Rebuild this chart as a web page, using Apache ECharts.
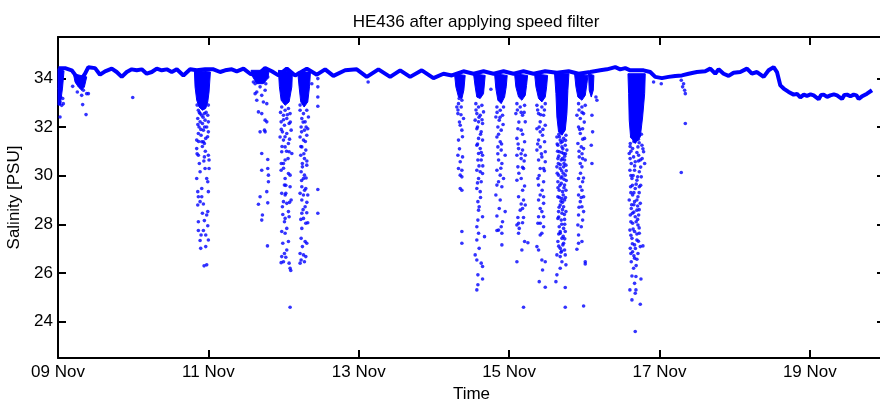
<!DOCTYPE html>
<html>
<head>
<meta charset="utf-8">
<script src="https://cdn.jsdelivr.net/npm/echarts@6/dist/echarts.min.js"></script>
<style>html,body{margin:0;padding:0;background:#fff}#c{width:880px;height:405px}</style>
</head>
<body>
<div id="c"></div>
<script>
// x values are days since 09 Nov 00:00
const tickDays = [0, 2, 4, 6, 8, 10];
const tickLabels = ['09 Nov', '11 Nov', '13 Nov', '15 Nov', '17 Nov', '19 Nov'];
const salTicks = [24, 26, 28, 30, 32, 34];

// main salinity trace
const baseline = [
[0.005,34.42],[0.094,34.42],[0.182,34.33],[0.249,34.06],[0.315,33.99],[0.360,34.19],[0.404,34.46],[0.493,34.42],
[0.559,34.15],[0.626,34.29],[0.715,34.40],[0.781,34.26],[0.848,34.06],[0.914,34.26],[0.981,34.37],[1.047,34.33],
[1.114,34.37],[1.180,34.19],[1.247,34.26],[1.314,34.40],[1.380,34.33],[1.447,34.37],[1.513,34.26],[1.580,34.37],
[1.668,34.12],[1.757,34.37],[1.846,34.33],[1.957,34.37],[2.068,34.37],[2.156,34.26],[2.223,34.33],[2.312,34.37],
[2.378,34.29],[2.467,34.40],[2.556,34.19],[2.644,34.12],[2.755,34.42],[2.844,34.29],[2.933,34.12],[3.044,34.40],
[3.154,34.12],[3.310,34.40],[3.443,34.15],[3.553,34.37],[3.663,34.10],[3.819,34.33],[3.974,34.37],[4.107,34.06],
[4.262,34.37],[4.418,34.06],[4.551,34.33],[4.684,34.06],[4.839,34.33],[4.994,34.01],[5.127,34.19],[5.238,34.12],
[5.393,34.29],[5.527,34.19],[5.660,34.29],[5.793,34.19],[5.926,34.29],[6.059,34.19],[6.192,34.29],[6.325,34.19],
[6.480,34.29],[6.636,34.23],[6.791,34.29],[6.924,34.19],[7.079,34.26],[7.212,34.33],[7.301,34.37],[7.412,34.46],
[7.478,34.37],[7.545,34.42],[7.611,34.33],[7.789,34.33],[7.877,34.26],[7.944,34.06],[8.033,34.01],[8.121,34.06],
[8.210,34.10],[8.299,34.12],[8.388,34.19],[8.498,34.26],[8.609,34.29],[8.676,34.40],[8.742,34.19],[8.787,34.37],
[8.853,34.19],[8.920,34.10],[8.986,34.23],[9.075,34.26],[9.164,34.40],[9.230,34.19],[9.297,34.26],[9.386,34.06],
[9.452,34.33],[9.519,34.46],[9.563,34.26],[9.608,33.71],[9.652,33.58],[9.718,33.44],[9.785,33.33],[9.830,33.36],[9.874,33.22],
[9.920,33.33],[9.962,33.28],[10.010,33.34],[10.051,33.30],[10.118,33.14],[10.150,33.32],[10.184,33.33],[10.230,33.24],[10.273,33.30],
[10.320,33.34],[10.362,33.30],[10.428,33.15],[10.460,33.32],[10.495,33.33],[10.540,33.26],[10.584,33.33],[10.620,33.30],[10.650,33.15],
[10.690,33.25],[10.716,33.17],[10.761,33.37],[10.827,33.51]
];

// dense cores of the low-salinity bursts (outline, time vs salinity)
const coreStart = [[0.0,34.40],[0.0,32.90],[0.030,32.90],[0.060,33.60],[0.080,34.30]];
const coreEarly = [[0.205,34.19],[0.227,33.85],[0.271,33.64],[0.315,33.51],[0.350,33.64],[0.382,34.06]];
const coreA = [[1.814,34.33],[1.823,33.65],[1.845,33.10],[1.876,32.82],[1.921,32.69],[1.965,32.76],[1.992,33.03],[2.009,33.44],[2.027,34.26]];
const coreB = [[2.568,34.33],[2.590,34.06],[2.644,33.78],[2.732,33.78],[2.790,33.99],[2.808,34.33]];
const coreC = [[2.932,34.33],[2.945,33.65],[2.968,33.10],[3.021,32.89],[3.074,33.03],[3.110,33.65],[3.118,34.26]];
const coreD = [[3.189,34.26],[3.207,33.65],[3.229,33.03],[3.274,32.82],[3.322,33.03],[3.345,33.65],[3.358,34.26]];
const coreF = [[5.274,34.19],[5.292,33.65],[5.327,33.23],[5.372,33.17],[5.398,33.51],[5.416,34.12]];
const coreG = [[5.527,34.19],[5.549,33.65],[5.571,33.23],[5.616,33.17],[5.660,33.37],[5.682,34.12]];
const coreH = [[5.807,34.19],[5.824,33.58],[5.851,33.10],[5.895,32.96],[5.940,33.23],[5.962,33.65],[5.975,34.12]];
const coreI = [[6.073,34.19],[6.090,33.65],[6.126,33.23],[6.170,33.10],[6.215,33.30],[6.232,33.71],[6.246,34.12]];
const coreJ = [[6.339,34.19],[6.357,33.65],[6.392,33.17],[6.436,33.03],[6.481,33.23],[6.499,33.65],[6.512,34.12]];
const coreK = [[6.605,34.19],[6.623,33.37],[6.636,32.41],[6.658,31.80],[6.703,31.66],[6.747,31.87],[6.769,32.55],[6.782,33.51],[6.796,34.19]];
const coreL1 = [[6.871,34.19],[6.889,33.65],[6.915,33.23],[6.969,33.10],[7.013,33.30],[7.035,33.78],[7.049,34.12]];
const coreL2 = [[7.057,34.19],[7.066,33.51],[7.093,33.23],[7.120,33.51],[7.128,34.12]];
const coreM = [[7.581,34.19],[7.590,33.37],[7.598,32.28],[7.616,31.59],[7.678,31.32],[7.745,31.59],[7.776,32.41],[7.803,33.37],[7.811,34.19]];
const cores = [coreStart, coreEarly, coreA, coreB, coreC, coreD, coreF, coreG, coreH, coreI, coreJ, coreK, coreL1, coreL2, coreM];

// scattered low readings
const ptsEarly = [[0.027,32.41],[0.071,32.96],[0.328,32.92],[0.373,32.51],[0.257,33.44],[0.195,33.67],[0.404,33.37],[0.994,33.21],
[0.338,33.51],[0.382,33.37],[0.293,33.71],[0.249,33.85],[0.018,33.58],[0.036,33.23],[0.027,33.03],[0.049,32.89],[0.063,33.17],[0.315,33.30]];
const ptsA = [[1.845,31.46],[1.845,31.11],[1.867,30.84],[1.934,31.39],[1.947,30.77],[2.000,30.84],[2.009,30.64],[1.890,30.16],[1.956,30.29],
[2.009,30.29],[1.845,29.88],[1.978,29.88],[1.992,29.75],[1.912,29.47],[2.000,29.34],[1.859,29.34],[1.867,29.13],[1.912,29.13],[1.890,28.93],
[1.859,28.79],[1.934,28.83],[1.921,28.45],[1.992,28.52],[1.978,28.38],[1.867,28.10],[1.947,28.15],[1.992,27.94],[1.867,27.74],[1.934,27.74],
[1.903,27.56],[1.965,27.56],[1.890,27.33],[2.000,27.35],[1.898,27.01],[1.965,27.08],[1.943,26.29],[1.978,26.33],
[1.867,32.69],[1.912,32.48],[1.890,32.21],[1.956,32.28],[1.978,32.00],[1.934,31.87],[2.000,31.80],[1.876,32.00],[1.903,31.66],[1.965,31.53],
[1.859,32.35],[1.992,32.48],[1.921,32.14],[1.947,32.55],[1.890,32.55],[2.000,32.21],[1.867,31.73],[1.947,31.32],[1.912,31.39],
[1.85,32.9],[1.88,32.6],[1.93,32.4],[1.97,32.6],[2.00,32.9],[1.86,32.1],[1.90,31.9],[1.95,32.0],[1.99,31.6],[1.87,31.4],
[1.92,31.2],[1.96,31.0],[1.88,30.5],[1.94,30.6],[1.85,30.9]];
const ptsB = [[2.599,33.85],[2.622,33.37],[2.644,33.44],[2.688,33.65],[2.710,33.30],[2.755,33.51],[2.777,32.96],[2.732,33.03],[2.644,33.10],
[2.666,32.62],[2.710,32.55],[2.755,32.28],[2.777,32.21],[2.746,31.87],[2.755,31.80],[2.688,31.80],[2.710,30.91],[2.790,30.66],[2.710,30.22],
[2.790,30.29],[2.799,30.02],[2.799,29.75],[2.777,29.34],[2.688,29.13],[2.666,28.82],[2.790,28.88],[2.719,28.38],[2.710,28.17],[2.786,27.11],
[2.622,33.78],[2.666,34.06],[2.732,33.92],[2.790,34.06],[2.764,33.78],[2.630,34.19],[2.701,34.19]];
const ptsC = [[2.976,32.82],[3.021,32.69],[3.065,32.76],[2.999,32.48],[3.043,32.35],[3.087,32.55],[2.968,32.21],[3.012,32.07],[3.074,32.14],
[2.985,31.80],[3.043,31.73],[3.101,31.87],[2.999,31.46],[3.065,31.32],[3.021,31.18],[2.976,30.98],[3.074,30.98],[3.021,30.64],[2.999,30.50],
[3.065,30.09],[3.087,30.02],[3.021,29.88],[3.012,29.61],[3.087,29.54],[2.976,29.27],[3.021,29.20],[2.999,28.93],[3.043,28.86],[2.985,28.72],
[3.065,28.52],[3.021,28.24],[3.074,28.31],[3.012,28.10],[3.043,27.83],[2.976,27.70],[3.021,27.63],[2.990,27.22],[3.065,27.29],[3.043,26.94],
[3.012,26.80],[2.976,26.67],[3.030,26.64],[2.968,26.42],[2.999,26.46],[3.074,26.40],[3.087,26.19],[3.096,26.10],[3.087,24.59],[2.954,31.59],
[3.110,30.91],[2.968,30.22],[3.030,29.27],[3.101,29.00],
[2.96,32.6],[3.00,32.3],[3.05,32.5],[3.09,32.2],[2.97,31.9],[3.02,31.6],[3.08,31.5],[2.98,31.2],[3.04,31.0],[3.00,30.3],
[3.06,30.7],[2.97,30.5],[3.03,29.6],[3.08,28.9],[2.99,28.4]];
const ptsD = [[3.220,32.69],[3.265,32.55],[3.309,32.69],[3.243,32.35],[3.287,32.21],[3.331,32.41],[3.234,32.00],[3.278,31.87],[3.322,31.93],
[3.220,31.59],[3.265,31.46],[3.309,31.66],[3.243,31.18],[3.296,31.05],[3.229,30.84],[3.278,30.70],[3.251,30.36],[3.309,30.43],[3.234,30.16],
[3.278,30.02],[3.265,29.88],[3.243,29.54],[3.296,29.47],[3.220,29.27],[3.265,29.20],[3.322,29.20],[3.243,29.00],[3.287,28.72],[3.243,28.45],
[3.309,28.47],[3.265,28.24],[3.296,28.04],[3.322,28.06],[3.243,27.83],[3.234,27.42],[3.287,27.29],[3.309,27.22],[3.251,27.08],[3.220,26.80],
[3.265,26.74],[3.296,26.67],[3.234,26.53],[3.278,26.46],[3.220,26.40],
[3.22,32.9],[3.26,32.2],[3.30,32.0],[3.24,31.8],[3.29,31.4],[3.23,31.2],[3.27,30.9],[3.31,30.6],[3.25,30.5],[3.30,29.9],
[3.24,29.8],[3.28,29.4],[3.31,28.9],[3.26,28.6],[3.23,28.2]];
const ptsE = [[3.456,33.99],[3.456,33.65],[3.456,33.23],[3.456,32.85],[3.456,29.43],[3.456,28.45],[3.376,33.78],[4.125,33.85]];
const ptsF = [[5.327,32.96],[5.363,32.82],[5.319,32.55],[5.394,32.35],[5.350,32.07],[5.372,31.87],[5.327,31.46],[5.319,30.84],[5.381,30.77],
[5.350,30.57],[5.327,30.29],[5.372,30.22],[5.350,30.02],[5.372,29.95],[5.350,29.47],[5.372,29.40],[5.372,27.70],[5.372,27.22],[5.336,33.17],
[5.372,33.10],[5.305,32.82],[5.32,32.7],[5.36,32.5],[5.34,32.2],[5.38,31.6],[5.34,31.1]];
const ptsG = [[5.558,32.96],[5.594,32.82],[5.638,32.89],[5.571,32.55],[5.616,32.48],[5.660,32.62],[5.549,32.28],[5.594,32.21],[5.647,32.14],
[5.571,31.93],[5.629,31.80],[5.594,31.53],[5.647,31.46],[5.571,31.25],[5.616,31.11],[5.594,30.91],[5.647,30.84],[5.585,30.64],[5.629,30.64],
[5.571,30.22],[5.616,30.16],[5.647,30.09],[5.594,29.88],[5.629,29.75],[5.571,29.47],[5.616,29.34],[5.585,28.93],[5.602,28.72],[5.594,28.58],
[5.647,28.31],[5.585,28.17],[5.571,27.90],[5.594,27.63],[5.673,27.49],[5.571,27.35],[5.602,27.01],[5.549,26.74],[5.571,26.53],[5.629,26.40],
[5.647,26.26],[5.585,25.92],[5.647,25.75],[5.585,25.51],[5.571,25.30],[5.758,33.55],
[5.56,32.7],[5.60,32.4],[5.64,32.3],[5.58,32.0],[5.62,31.7],[5.58,31.3],[5.63,30.95],[5.60,30.4],[5.65,30.4],[5.58,29.7],[5.62,29.1]];
const ptsH = [[5.838,32.82],[5.882,32.69],[5.926,32.82],[5.824,32.41],[5.869,32.28],[5.913,32.48],[5.851,32.00],[5.895,31.87],[5.838,31.59],
[5.882,31.39],[5.851,31.18],[5.895,31.05],[5.948,30.84],[5.860,30.64],[5.904,30.50],[5.838,30.22],[5.882,30.02],[5.926,29.88],[5.860,29.75],
[5.838,29.61],[5.904,29.54],[5.824,29.20],[5.882,29.00],[5.869,28.65],[5.948,28.52],[5.838,28.34],[5.913,28.10],[5.895,27.90],[5.860,27.76],
[5.838,27.74],[5.904,27.63],[5.904,27.15],[5.84,32.6],[5.88,32.4],[5.92,32.1],[5.86,31.7],[5.90,31.3],[5.85,30.9],[5.89,30.3]];
const ptsI = [[6.104,32.96],[6.148,32.82],[6.206,32.89],[6.090,32.55],[6.179,32.48],[6.215,32.21],[6.117,31.93],[6.161,31.87],[6.104,31.53],
[6.206,31.39],[6.126,31.11],[6.179,31.05],[6.104,30.84],[6.161,30.70],[6.215,30.84],[6.117,30.36],[6.179,30.34],[6.192,30.29],[6.104,29.81],
[6.161,29.88],[6.206,29.57],[6.126,29.13],[6.192,29.00],[6.161,28.83],[6.215,28.79],[6.179,28.65],[6.148,28.58],[6.117,28.28],[6.192,28.28],
[6.126,28.04],[6.104,27.97],[6.179,28.06],[6.135,27.83],[6.126,27.63],[6.206,27.29],[6.250,27.24],[6.170,26.94],[6.104,26.46],[6.192,24.59],
[6.11,32.7],[6.16,32.6],[6.20,32.6],[6.13,32.2],[6.18,31.7],[6.12,31.3],[6.16,30.9],[6.20,30.6],[6.13,30.1],[6.18,29.4]];
const ptsJ = [[6.370,32.89],[6.436,32.82],[6.481,32.96],[6.392,32.55],[6.459,32.48],[6.414,32.21],[6.481,32.07],[6.370,31.93],[6.414,31.80],
[6.445,31.66],[6.392,31.46],[6.472,31.39],[6.414,31.18],[6.370,31.05],[6.481,30.98],[6.436,30.77],[6.392,30.64],[6.481,30.57],[6.414,30.29],
[6.459,30.29],[6.383,29.88],[6.459,29.75],[6.392,29.61],[6.414,29.20],[6.459,29.13],[6.392,29.00],[6.459,28.86],[6.414,28.65],[6.436,28.52],
[6.392,28.31],[6.459,28.31],[6.414,28.04],[6.383,28.04],[6.459,27.90],[6.436,27.63],[6.414,27.56],[6.370,27.08],[6.392,26.94],[6.436,26.53],
[6.481,26.46],[6.445,26.12],[6.401,25.64],[6.481,25.41],
[6.38,32.7],[6.42,32.5],[6.47,32.7],[6.40,32.0],[6.45,31.9],[6.38,31.3],[6.43,30.9],[6.47,30.2],[6.40,30.0],[6.44,29.4]];
const ptsK = [[6.636,31.59],[6.680,31.46],[6.725,31.53],[6.756,31.66],[6.649,31.25],[6.703,31.18],[6.747,31.25],[6.667,30.98],[6.725,30.91],
[6.769,31.05],[6.649,30.70],[6.694,30.64],[6.738,30.64],[6.636,30.36],[6.680,30.29],[6.725,30.36],[6.756,30.43],[6.658,30.02],[6.703,29.95],
[6.747,30.02],[6.649,29.75],[6.694,29.68],[6.738,29.61],[6.667,29.40],[6.711,29.34],[6.756,29.40],[6.649,29.13],[6.703,29.06],[6.738,29.00],
[6.680,28.79],[6.725,28.72],[6.658,28.52],[6.703,28.45],[6.756,28.52],[6.649,28.24],[6.694,28.17],[6.738,28.20],[6.667,27.90],[6.725,27.83],
[6.680,27.63],[6.747,27.70],[6.703,27.42],[6.649,27.29],[6.725,27.22],[6.680,27.01],[6.738,26.94],[6.636,26.74],[6.680,26.67],[6.747,26.74],
[6.703,26.46],[6.756,26.33],[6.680,26.19],[6.636,25.92],[6.623,25.64],[6.747,25.40],[6.747,24.59],
[6.662,31.70],[6.690,31.35],[6.715,31.10],[6.740,30.80],[6.655,30.50],[6.700,30.20],[6.730,29.85],[6.675,29.60],[6.720,29.20],[6.690,28.95],
[6.665,28.70],[6.735,28.40],[6.700,28.00],[6.660,27.60],[6.715,27.15],[6.690,26.85],[6.730,30.50],[6.645,31.00],[6.710,30.70],[6.760,29.80],
[6.64,31.3],[6.67,31.6],[6.71,31.4],[6.75,31.45],[6.66,30.8],[6.70,30.95],[6.75,30.9],[6.64,30.1],[6.68,30.45],[6.72,30.1],
[6.76,30.2],[6.65,29.5],[6.69,29.9],[6.73,29.5],[6.67,29.1],[6.71,28.9],[6.75,29.1],[6.66,28.3],[6.71,28.6],[6.74,28.0],
[6.68,27.7],[6.72,27.5],[6.66,27.1],[6.70,26.9],[6.74,27.4]];
const ptsL = [[6.924,32.96],[6.969,32.82],[7.013,32.89],[6.902,32.48],[6.947,32.35],[6.991,32.55],[6.924,32.00],[6.978,31.93],[6.947,31.73],
[7.004,31.53],[6.915,31.32],[6.960,31.18],[6.991,31.11],[6.933,30.77],[6.978,30.70],[7.013,30.64],[6.947,30.50],[6.969,30.36],[6.924,29.88],
[6.978,29.75],[6.947,29.54],[6.969,29.40],[6.924,29.20],[6.991,29.13],[6.947,28.93],[6.969,28.72],[6.991,28.52],[6.924,28.38],[6.978,28.17],
[6.915,27.97],[6.960,27.90],[6.924,27.56],[6.969,27.29],[6.924,27.22],[6.902,26.97],[7.013,26.46],[7.013,26.37],[6.991,24.64],[7.102,32.48],
[7.111,31.80],[7.093,31.25],[7.102,30.50],[7.155,33.23],[7.168,33.10],
[6.93,32.7],[6.97,32.6],[7.00,32.2],[6.94,31.9],[6.98,31.5],[6.93,31.0],[6.97,30.9],[6.95,30.1],[6.99,29.9],[6.96,29.1],[6.93,28.7]];
const ptsM = [[7.612,31.32],[7.643,31.11],[7.714,31.18],[7.767,31.25],[7.598,30.91],[7.656,30.77],[7.723,30.84],[7.789,30.98],[7.625,30.50],
[7.678,30.57],[7.745,30.64],[7.803,30.50],[7.607,30.22],[7.669,30.22],[7.732,30.16],[7.634,29.88],[7.700,29.81],[7.758,29.95],[7.616,29.54],
[7.678,29.47],[7.732,29.54],[7.643,29.20],[7.714,29.13],[7.598,29.00],[7.669,28.93],[7.745,28.86],[7.625,28.65],[7.700,28.58],[7.612,28.38],
[7.678,28.31],[7.723,28.38],[7.643,28.04],[7.714,27.97],[7.607,27.76],[7.669,27.70],[7.732,27.63],[7.634,27.42],[7.700,27.35],[7.669,27.15],
[7.612,27.01],[7.745,27.08],[7.780,27.11],[7.643,26.87],[7.714,26.80],[7.669,26.60],[7.625,26.46],[7.700,26.56],[7.656,26.19],[7.634,25.87],
[7.687,25.85],[7.754,25.75],[7.669,25.57],[7.607,25.30],[7.687,25.30],[7.678,25.16],[7.634,24.89],[7.745,24.71],[7.678,23.59],
[7.620,31.00],[7.700,30.95],[7.750,30.35],[7.650,30.00],[7.690,29.65],[7.730,29.30],[7.620,29.30],[7.660,28.80],[7.710,28.75],[7.640,28.45],
[7.690,28.10],[7.730,27.85],[7.620,27.55],[7.680,27.00],[7.660,26.70],[7.720,31.50],[7.630,31.60],[7.760,31.70],[7.680,31.80],
[7.61,31.2],[7.66,31.4],[7.73,31.35],[7.78,31.1],[7.61,30.7],[7.67,30.4],[7.72,30.6],[7.77,30.7],[7.62,30.0],[7.71,29.95],
[7.64,29.6],[7.75,29.6],[7.66,29.3],[7.70,29.0],[7.63,28.8],[7.73,28.6],[7.66,28.5],[7.62,28.1],[7.71,28.2],[7.65,27.8],
[7.70,27.6],[7.64,27.2],[7.72,27.3],[7.62,26.8],[7.69,26.3]];
const ptsN = [[8.290,33.92],[8.308,33.65],[8.335,33.51],[8.344,33.37],[8.321,33.78],[8.344,32.14],[8.290,30.13],[7.922,33.85],[8.024,33.78]];

const scatterPts = [].concat(ptsEarly, ptsA, ptsB, ptsC, ptsD, ptsE, ptsF, ptsG, ptsH, ptsI, ptsJ, ptsK, ptsL, ptsM, ptsN);

const BLUE = '#0000ff';
const FONT = 'Liberation Sans, Arial, Helvetica, sans-serif';
const axisLineStyle = { color: '#000', width: 2 };

const chart = echarts.init(document.getElementById('c'), null, { renderer: 'canvas' });
chart.setOption({
  animation: false,
  backgroundColor: '#fff',
  title: {
    text: 'HE436 after applying speed filter',
    left: 471, top: 9, textAlign: 'center',
    textStyle: { fontFamily: FONT, fontSize: 17, fontWeight: 'normal', color: '#000' }
  },
  grid: { left: 58, right: -5, top: 37, bottom: 47, containLabel: false, outerBoundsMode: 'none' },
  xAxis: [
    {
      type: 'value', min: 0, max: 11, position: 'bottom',
      name: 'Time', nameLocation: 'middle', nameGap: 27,
      nameTextStyle: { fontFamily: FONT, fontSize: 17, color: '#000' },
      axisLine: { onZero: false, lineStyle: axisLineStyle },
      axisTick: { inside: true, length: 8, lineStyle: axisLineStyle, customValues: tickDays },
      axisLabel: { customValues: tickDays, margin: 6, fontFamily: FONT, fontSize: 17, color: '#000',
        formatter: v => { const i = tickDays.indexOf(v); return i >= 0 ? tickLabels[i] : ''; } },
      splitLine: { show: false }
    },
    {
      type: 'value', min: 0, max: 11, position: 'top',
      axisLine: { onZero: false, lineStyle: axisLineStyle },
      axisTick: { inside: true, length: 8, lineStyle: axisLineStyle, customValues: tickDays },
      axisLabel: { show: false }, splitLine: { show: false }
    }
  ],
  yAxis: [
    {
      type: 'value', min: 22.5, max: 35.7, position: 'left',
      name: 'Salinity [PSU]', nameLocation: 'middle', nameGap: 33,
      nameTextStyle: { fontFamily: FONT, fontSize: 17, color: '#000' },
      axisLine: { show: true, onZero: false, lineStyle: axisLineStyle },
      axisTick: { show: true, inside: true, length: 8, lineStyle: axisLineStyle, customValues: salTicks },
      axisLabel: { customValues: salTicks, margin: 5, fontFamily: FONT, fontSize: 17, color: '#000' },
      splitLine: { show: false }
    },
    {
      type: 'value', min: 22.5, max: 35.7, position: 'right',
      axisLine: { show: true, onZero: false, lineStyle: axisLineStyle },
      axisTick: { show: true, inside: true, length: 8, lineStyle: axisLineStyle, customValues: salTicks },
      axisLabel: { show: false }, splitLine: { show: false }
    }
  ],
  series: [
    {
      type: 'custom', xAxisIndex: 0, yAxisIndex: 0, z: 2,
      data: cores.map((c, i) => [c[0][0], c[0][1], i]),
      encode: { x: 0, y: 1 },
      renderItem: (params, api) => {
        const pts = cores[api.value(2)].map(p => api.coord(p));
        return { type: 'polygon', shape: { points: pts }, style: { fill: BLUE, stroke: BLUE, lineWidth: 1 } };
      }
    },
    {
      type: 'scatter', xAxisIndex: 0, yAxisIndex: 0, z: 3,
      data: scatterPts, symbol: 'circle', symbolSize: 3.6,
      itemStyle: { color: BLUE }
    },
    {
      type: 'line', xAxisIndex: 0, yAxisIndex: 0, z: 4,
      data: baseline, showSymbol: false, symbol: 'none',
      lineStyle: { color: BLUE, width: 4 }
    }
  ]
});
</script>
</body>
</html>
